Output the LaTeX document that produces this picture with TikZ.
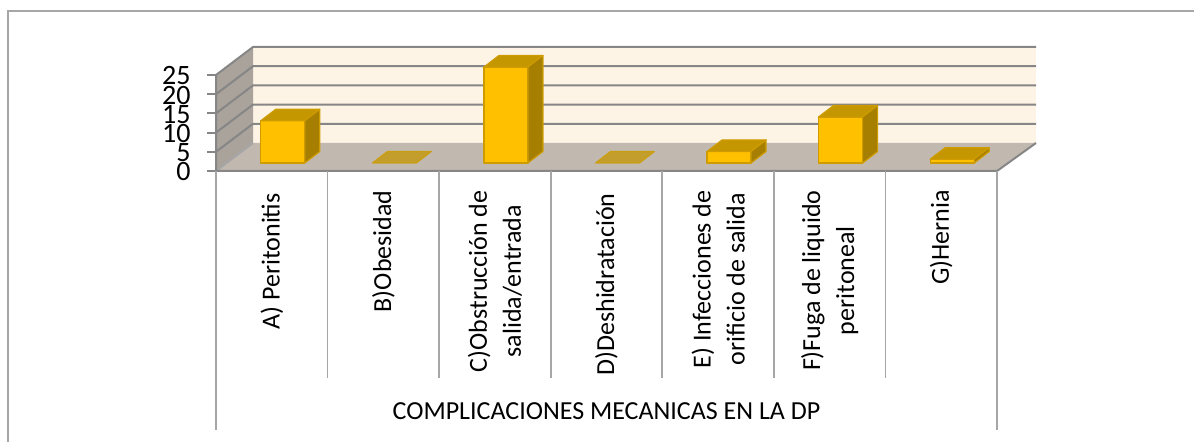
\documentclass[tikz,border=0pt]{standalone}
\usepackage{fontspec}
\setmainfont{Carlito}
\usetikzlibrary{calc}
\definecolor{wallback}{RGB}{253,244,230}
\definecolor{wallside}{RGB}{170,163,156}
\definecolor{wallfloor}{RGB}{193,185,176}
\definecolor{gridgray}{RGB}{134,134,134}
\definecolor{framegray}{RGB}{166,166,166}
\definecolor{barfront}{RGB}{255,192,0}
\definecolor{bartop}{RGB}{196,150,0}
\definecolor{barside}{RGB}{166,126,0}
\definecolor{baredge}{RGB}{206,156,0}
\tikzset{
  gridline/.style={draw=gridgray, line width=1pt},
  catline/.style={draw=framegray, line width=0.8pt},
  barface/.style={draw=baredge, line width=0.6pt, line join=round},
  catlabel/.style={rotate=90, anchor=east, inner sep=0pt, align=center},
  ticklabel/.style={anchor=east, inner sep=0pt, font=\fontsize{14}{14}\selectfont}
}

\begin{document}
\begin{tikzpicture}[x=0.5pt, y=-0.5pt, font=\fontsize{13}{17}\selectfont]
  \useasboundingbox (0,0) rectangle (1194,442);
  \pgfmathsetmacro{\unit}{3.84}
  \pgfmathsetmacro{\catw}{111.57}
  % outer frame
  \draw [framegray, line width=1pt] (8,442) -- (8,11) -- (1194,11);
  % walls and floor
  \fill [wallback] (253,47) coordinate (bwtl) -- (1036,47) coordinate (bwtr) -- (1036,143) coordinate (bwbr) -- (253,143) coordinate (bwbl) -- cycle;
  \fill [wallside] (216,171) coordinate (o) -- (216,75) coordinate (lwt) -- (bwtl) -- (bwbl) -- cycle;
  \fill [wallfloor] (o) -- (bwbl) -- (bwbr) -- (997,171) coordinate (flr) -- cycle;
  \foreach \v in {5,10,...,25}
    \draw [gridline] (216,{171-\v*\unit}) -- (253,{143-\v*\unit}) -- (1036,{143-\v*\unit});
  \draw [gridline, draw=framegray] (o) -- (bwbl);
  \draw [gridline] (lwt) -- (o) -- (flr) -- (bwbr);
  % ticks and tick labels
  \foreach \v in {0,5,...,25}{
    \draw [gridline] (207,{171-\v*\unit}) -- (216,{171-\v*\unit});
    \node [ticklabel] (tick\v) at (191,{172-\v*\unit}) {\v};
  }
  % category lines
  \foreach \i in {1,...,6}
    \draw [catline] ({216+\i*\catw},171) -- ({216+\i*\catw},378);
  \draw [catline] (o) -- (216,430);
  \draw [catline] (flr) -- (997,430);
  % bars
  \foreach \v [count=\i from 0] in {11,0,25,0,3,12,1}{
    \pgfmathsetmacro{\xa}{216+(\i+0.5)*\catw-11}
    \pgfmathsetmacro{\xb}{\xa+44}
    \pgfmathsetmacro{\ya}{163-\v*\unit}
    \ifnum\v=0
      \filldraw [barface, fill=bartop, fill opacity=0.75, draw opacity=0.8] (\xa,163) -- ++(15,-11.5) -- (\xb+15,151.5) -- (\xb,163) -- cycle;
    \else
      \filldraw [barface, fill=barfront] (\xa,163) rectangle (\xb,\ya);
      \filldraw [barface, fill=bartop] (\xa,\ya) -- ++(15,-11.5) -- (\xb+15,\ya-11.5) -- (\xb,\ya) -- cycle;
      \filldraw [barface, fill=barside] (\xb,163) -- (\xb,\ya) -- ++(15,-11.5) -- (\xb+15,151.5) -- cycle;
    \fi
  }
  % category labels
  \node [catlabel] (catA) at (272,193) {A) Peritonitis};
  \node [catlabel] (catB) at (383.4,190) {B)Obesidad};
  \node [catlabel] (catC) at (494.9,190) {C)Obstrucción de\\salida/entrada};
  \node [catlabel] (catD) at (606.5,193) {D)Deshidratación};
  \node [catlabel] (catE) at (718.1,190) {E) Infecciones de\\orificio de salida};
  \node [catlabel] (catF) at (829.6,190) {F)Fuga de liquido\\peritoneal};
  \node [catlabel] (catG) at (941.2,190) {G)Hernia};
  % axis title
  \node (axistitle) at (606.5,411) {COMPLICACIONES MECANICAS EN LA DP};
\end{tikzpicture}
\end{document}
